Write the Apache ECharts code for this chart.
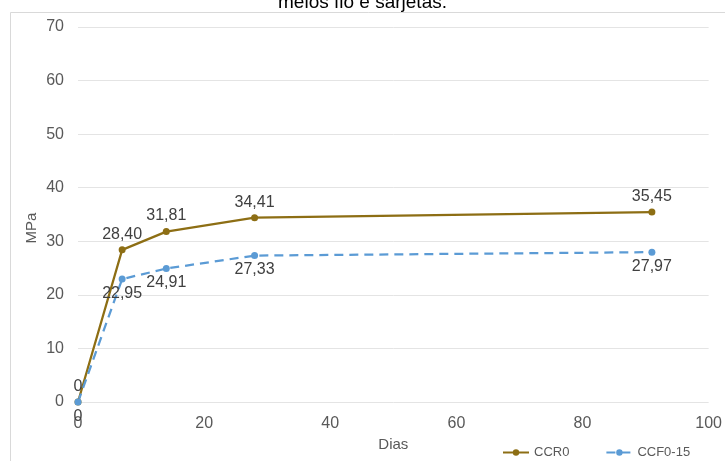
<!DOCTYPE html>
<html>
<head>
<meta charset="utf-8">
<script src="https://cdn.jsdelivr.net/npm/echarts@6/dist/echarts.min.js"></script>
<style>
  html, body { margin: 0; padding: 0; background: #ffffff; }
  #chart { width: 725px; height: 461px; }
</style>
</head>
<body>
<div id="chart"></div>
<script>
// Idade do ensaio (dias)
const dias = [0, 7, 14, 28, 91];
// Resistência à compressão (MPa)
const ccr0 = [0, 28.40, 31.81, 34.41, 35.45];
const ccf015 = [0, 22.95, 24.91, 27.33, 27.97];
const seriesNames = ['CCR0', 'CCF0-15'];
const titleText = 'meios fio e sarjetas.';

const fmt = v => v.value[1] === 0 ? '0' : v.value[1].toFixed(2).replace('.', ',');
const pairs = (xs, ys) => xs.map((x, i) => [x, ys[i]]);

const chart = echarts.init(document.getElementById('chart'), null, { renderer: 'canvas' });
const font = '"Liberation Sans", Arial, sans-serif';

chart.setOption({
  animation: false,
  backgroundColor: '#ffffff',
  textStyle: { fontFamily: font },
  grid: { left: 78, right: 13, top: 27, bottom: 59, containLabel: false },
  xAxis: {
    type: 'value', min: 0, max: 100, interval: 20,
    name: 'Dias', nameLocation: 'middle', nameGap: 31,
    nameTextStyle: { color: '#595959', fontSize: 15, fontFamily: font },
    axisLine: { show: false }, axisTick: { show: false },
    splitLine: { show: false },
    axisLabel: { color: '#595959', fontSize: 16, margin: 14, fontFamily: font }
  },
  yAxis: {
    type: 'value', min: 0, max: 70, interval: 10,
    axisLine: { show: false }, axisTick: { show: false },
    splitLine: { lineStyle: { color: '#e4e4e4', width: 1 } },
    axisLabel: { color: '#595959', fontSize: 16, margin: 14, fontFamily: font }
  },
  legend: {
    left: 497, top: 441, itemWidth: 26, itemHeight: 8, itemGap: 36,
    textStyle: { color: '#595959', fontSize: 13, fontFamily: font },
    data: seriesNames
  },
  series: [
    {
      name: seriesNames[0], type: 'line', data: pairs(dias, ccr0),
      color: '#8d6e14',
      lineStyle: { width: 2.25, color: '#8d6e14' },
      symbol: 'circle', symbolSize: 7,
      label: { show: true, position: 'top', distance: 4, color: '#404040', fontSize: 16, formatter: fmt, fontFamily: font }
    },
    {
      name: seriesNames[1], type: 'line', data: pairs(dias, ccf015),
      color: '#5b9bd5',
      lineStyle: { width: 2.25, type: [9, 6], color: '#5b9bd5' },
      symbol: 'circle', symbolSize: 7,
      label: { show: true, position: 'bottom', distance: 3, color: '#404040', fontSize: 16, formatter: fmt, fontFamily: font }
    }
  ],
  graphic: [
    {
      type: 'rect', silent: true, z: -1,
      shape: { x: 10.5, y: 12.5, width: 800, height: 600 },
      style: { fill: 'none', stroke: '#d9d9d9', lineWidth: 1 }
    },
    {
      type: 'text', left: 'center', top: -7, silent: true,
      style: { text: titleText, font: '19px ' + font, fill: '#000000' },
      x: 12
    },
    {
      type: 'text', silent: true, x: 32, y: 228, rotation: Math.PI / 2,
      style: { text: 'MPa', font: '15px ' + font, fill: '#595959', align: 'center', verticalAlign: 'middle' }
    }
  ]
});
</script>
</body>
</html>
